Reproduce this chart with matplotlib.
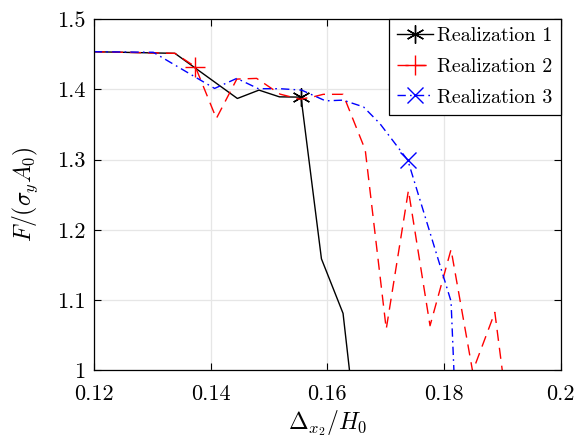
"""Force-displacement curves for three realizations."""

import matplotlib

matplotlib.use("Agg")
import matplotlib.pyplot as plt
from matplotlib.ticker import FuncFormatter

plt.rcParams["font.family"] = "serif"
plt.rcParams["font.serif"] = ["cmr10"]
plt.rcParams["mathtext.fontset"] = "cm"
plt.rcParams["axes.formatter.use_mathtext"] = True

# Realization 1 (black, solid)
x1 = [0.1200, 0.1339, 0.1446, 0.1483, 0.1518, 0.1555, 0.1590, 0.1627, 0.1638]
y1 = [1.4537, 1.4514, 1.3871, 1.3990, 1.3894, 1.3890, 1.1586, 1.0809, 1.0000]
mark1 = 5

# Realization 2 (red, dashed)
x2 = [0.1200, 0.1339, 0.1374, 0.1410, 0.1445, 0.1479, 0.1519, 0.1553, 0.1576,
      0.1593, 0.1627, 0.1665, 0.1701, 0.1739, 0.1776, 0.1812, 0.1849, 0.1887,
      0.1900]
y2 = [1.4537, 1.4514, 1.4323, 1.3586, 1.4147, 1.4157, 1.3933, 1.3860, 1.3894,
      1.3930, 1.3930, 1.3139, 1.0586, 1.2561, 1.0633, 1.1719, 0.9980, 1.0823,
      0.9980]
mark2 = 2

# Realization 3 (blue, dash-dot)
x3 = [0.1200, 0.1302, 0.1373, 0.1407, 0.1445, 0.1482, 0.1519, 0.1556, 0.1597,
      0.1627, 0.1662, 0.1690, 0.1738, 0.1812, 0.1817]
y3 = [1.4537, 1.4529, 1.4180, 1.4014, 1.4157, 1.4010, 1.4010, 1.3990, 1.3837,
      1.3847, 1.3751, 1.3514, 1.2990, 1.0980, 0.9980]
mark3 = 12

labels = ["Realization 1", "Realization 2", "Realization 3"]
xticks = [0.12, 0.14, 0.16, 0.18, 0.2]
yticks = [1.0, 1.1, 1.2, 1.3, 1.4, 1.5]

fig = plt.figure(figsize=(5.86, 4.37), dpi=100)
ax = fig.add_axes([0.160, 0.153, 0.797, 0.803])

ax.plot(x1, y1, color="black", linestyle="-", linewidth=1.0,
        marker=(6, 2, 0), markersize=13, markeredgewidth=1.0,
        markevery=[mark1], label=labels[0])
ax.plot(x2, y2, color="red", linestyle=(0, (8, 5)), linewidth=1.0,
        marker="+", markersize=15, markeredgewidth=1.0,
        markevery=[mark2], label=labels[1])
ax.plot(x3, y3, color="blue", linestyle=(0, (6, 3, 1.2, 3)), linewidth=1.0,
        marker="x", markersize=11, markeredgewidth=1.0,
        markevery=[mark3], label=labels[2])

ax.set_xlim(0.12, 0.2)
ax.set_ylim(1.0, 1.5)
ax.set_xticks(xticks)
ax.set_yticks(yticks)
ax.xaxis.set_major_formatter(FuncFormatter(lambda v, p: f"{v:g}"))
ax.yaxis.set_major_formatter(FuncFormatter(lambda v, p: f"{v:g}"))
ax.tick_params(direction="in", top=True, right=True, labelsize=16, length=5,
               width=0.8)
ax.tick_params(axis="x", pad=10)
ax.tick_params(axis="y", pad=6)
ax.grid(True, color="#e6e6e6", linewidth=0.9)
ax.set_axisbelow(True)
for s in ax.spines.values():
    s.set_linewidth(0.9)

ax.set_xlabel(r"$\Delta_{x_2}/H_0$", fontsize=17, labelpad=3)
ax.set_ylabel(r"$F/(\sigma_y A_0)$", fontsize=17, labelpad=12)

leg = ax.legend(loc="upper right", fontsize=14.5, frameon=True, fancybox=False,
                edgecolor="black", framealpha=1.0, handlelength=1.8,
                handletextpad=0.2, borderpad=0.4, labelspacing=0.62,
                borderaxespad=0.0)
leg.get_frame().set_linewidth(0.9)

fig.savefig("out.png", dpi=100)
